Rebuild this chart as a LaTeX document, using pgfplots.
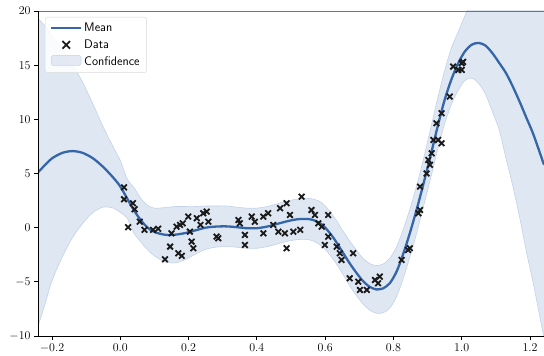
\documentclass[border=0pt]{standalone}
\usepackage{pgfplots}
\pgfplotsset{compat=1.18}
\usepackage{pgfplotstable}
\usepgfplotslibrary{fillbetween}
\definecolor{meancol}{HTML}{3466A8}
\definecolor{bandcol}{HTML}{DFE7F3}
\definecolor{bandedge}{HTML}{C3D2E8}
\definecolor{markcol}{HTML}{1A1A1A}

\pgfplotstableread{
x mean
-0.241 5.1
-0.22 5.8
-0.20 6.4
-0.17 6.9
-0.14 7.07
-0.11 6.9
-0.08 6.4
-0.05 5.6
-0.02 4.6
0.00 3.8
0.02 2.7
0.04 1.6
0.06 0.7
0.08 0.0
0.10 -0.4
0.13 -0.65
0.16 -0.65
0.19 -0.5
0.22 -0.25
0.25 0.0
0.28 0.1
0.31 0.12
0.34 0.05
0.37 -0.05
0.40 -0.05
0.43 0.1
0.46 0.35
0.49 0.6
0.52 0.78
0.55 0.8
0.57 0.65
0.59 0.3
0.61 -0.35
0.63 -1.2
0.65 -2.2
0.67 -3.2
0.69 -4.1
0.71 -4.9
0.73 -5.45
0.75 -5.7
0.77 -5.6
0.79 -5.1
0.81 -4.0
0.83 -2.3
0.85 -0.3
0.87 1.9
0.89 4.3
0.91 6.8
0.93 9.4
0.95 11.8
0.97 13.7
0.99 15.2
1.01 16.3
1.03 16.9
1.05 17.05
1.07 16.8
1.09 16.1
1.11 15.2
1.13 14.25
1.15 13.0
1.17 11.6
1.19 10.1
1.21 8.6
1.241 5.8
}\meantable

\pgfplotstableread{
x lo hi
-0.241 -9.1 19.3
-0.22 -7.0 18.6
-0.20 -4.9 17.7
-0.17 -2.7 16.5
-0.14 -0.93 15.07
-0.11 0.4 13.4
-0.08 1.4 11.4
-0.05 1.9 9.3
-0.02 1.8 7.4
0.00 1.4 6.2
0.02 0.9 4.5
0.04 -0.5 3.7
0.06 -1.3 2.7
0.08 -2.05 2.05
0.10 -2.6 1.8
0.13 -3.15 1.85
0.16 -3.25 1.95
0.19 -2.95 1.95
0.22 -2.45 1.95
0.25 -2.0 2.0
0.28 -1.8 2.0
0.31 -1.75 2.0
0.34 -1.8 1.9
0.37 -1.9 1.8
0.40 -1.9 1.8
0.43 -1.75 1.95
0.46 -1.5 2.2
0.49 -1.25 2.45
0.52 -1.1 2.65
0.55 -1.1 2.7
0.57 -1.3 2.6
0.59 -1.7 2.3
0.61 -2.35 1.65
0.63 -3.2 0.8
0.65 -4.2 -0.2
0.67 -5.25 -1.15
0.69 -6.2 -2.0
0.71 -7.0 -2.8
0.73 -7.6 -3.3
0.75 -7.9 -3.5
0.77 -7.85 -3.35
0.79 -7.4 -2.8
0.81 -6.3 -1.7
0.83 -4.55 -0.05
0.85 -2.5 1.9
0.87 -0.25 4.1
0.89 2.2 6.6
0.91 4.7 9.3
0.93 7.3 12.0
0.95 9.6 14.5
0.97 11.4 16.6
0.99 12.7 18.1
1.01 13.6 19.6
1.03 13.8 20.9
1.05 13.3 21.5
1.07 12.3 21.8
1.09 10.7 22.0
1.11 9.0 22.0
1.13 6.35 22.2
1.15 3.8 22.2
1.17 0.9 22.3
1.19 -2.3 22.5
1.21 -5.2 22.4
1.241 -10.2 21.8
}\bandtable

\pgfplotstableread{
x y
0.011 3.72
0.011 2.62
0.037 2.25
0.042 1.70
0.023 0.04
0.057 0.55
0.071 -0.2
0.096 -0.2
0.111 -0.1
0.131 -2.92
0.150 -0.52
0.146 -1.75
0.170 -2.36
0.180 -2.60
0.165 0.09
0.175 0.25
0.183 0.40
0.199 1.02
0.204 -0.37
0.209 -1.29
0.214 -1.90
0.224 0.87
0.243 1.33
0.253 1.48
0.258 0.55
0.235 0.25
0.282 -0.83
0.287 -0.98
0.346 0.71
0.350 0.40
0.365 -0.67
0.365 -1.60
0.385 1.02
0.394 0.55
0.419 1.02
0.433 1.33
0.419 -0.52
0.448 0.25
0.463 -0.37
0.468 1.79
0.487 2.25
0.497 1.17
0.482 -0.52
0.487 -1.90
0.507 -0.37
0.527 -0.20
0.531 2.86
0.560 1.63
0.570 1.17
0.580 0.40
0.609 1.17
0.590 0.09
0.609 -0.83
0.599 -1.60
0.634 -1.75
0.643 -2.36
0.648 -2.98
0.682 -2.36
0.672 -4.67
0.697 -4.99
0.702 -5.75
0.722 -5.75
0.746 -4.83
0.760 -4.52
0.755 -5.13
0.824 -2.98
0.843 -2.06
0.848 -1.90
0.878 3.79
0.878 1.63
0.873 1.33
0.897 5.00
0.902 6.25
0.912 6.87
0.907 5.80
0.917 8.10
0.931 8.10
0.926 9.64
0.941 10.56
0.941 7.79
0.965 12.10
0.975 14.87
0.990 14.56
1.000 15.18
1.000 14.56
1.004 15.30
}\datatable

\begin{document}
\begin{tikzpicture}
\begin{axis}[
  scale only axis,
  width=506bp, height=325bp,
  xmin=-0.241, xmax=1.241, ymin=-10, ymax=20,
  xtick={-0.2,0,0.2,0.4,0.6,0.8,1.0,1.2},
  ytick={-10,-5,0,5,10,15,20},
  xticklabel style={/pgf/number format/.cd, fixed, fixed zerofill, precision=1},
  ticklabel style={font=\fontsize{12}{14}\selectfont},
  tick align=outside, tick pos=left,
  major tick length=4bp,
  tick style={black, line width=1pt},
  axis line style={draw=none},
  legend style={at={(0,1)}, anchor=north west, xshift=7bp, yshift=-6bp,
    draw=black!15, rounded corners=2.5pt, fill=white, fill opacity=0.85, text opacity=1,
    font=\sffamily\fontsize{12.5}{14}\selectfont, row sep=2.5pt, inner xsep=5pt, inner ysep=4pt},
  legend cell align=left,
  after end axis/.code={
    \draw[black!55, line width=1pt] (rel axis cs:0,1) -- (rel axis cs:1,1);
    \draw[black, line width=1pt] (rel axis cs:0,1) -- (rel axis cs:0,0) -- (rel axis cs:1,0);
    \coordinate (BL) at (rel axis cs:0,0);
    \coordinate (TR) at (rel axis cs:1,1);
  },
]
\addplot[name path=hi, draw=bandedge, line width=0.6pt, smooth, forget plot] table[x=x, y=hi] {\bandtable};
\addplot[name path=lo, draw=bandedge, line width=0.6pt, smooth, forget plot] table[x=x, y=lo] {\bandtable};
\addplot[bandcol, forget plot] fill between[of=hi and lo];
\addplot[meancol, line width=2.3pt, smooth, forget plot] table[x=x, y=mean] {\meantable};
\addplot[only marks, mark=x, mark size=4pt, mark options={markcol, line width=1.8pt}, forget plot] table[x=x, y=y] {\datatable};

\addlegendimage{legend image code/.code={\draw[meancol, line width=2.3pt] (0cm,0cm) -- (1.05cm,0cm);}}
\addlegendentry{Mean}
\addlegendimage{legend image code/.code={\draw[markcol, line width=1.8pt] (0.525cm,0cm) +(-3.8pt,-3.8pt) -- +(3.8pt,3.8pt) +(-3.8pt,3.8pt) -- +(3.8pt,-3.8pt);}}
\addlegendentry{Data}
\addlegendimage{legend image code/.code={\draw[fill=bandcol, draw=bandedge] (0cm,-0.15cm) rectangle (1.05cm,0.22cm);}}
\addlegendentry{Confidence}
\end{axis}
\pgfresetboundingbox
\path ([xshift=-38bp,yshift=-20bp]BL) rectangle ([yshift=11bp]TR);
\end{tikzpicture}
\end{document}
